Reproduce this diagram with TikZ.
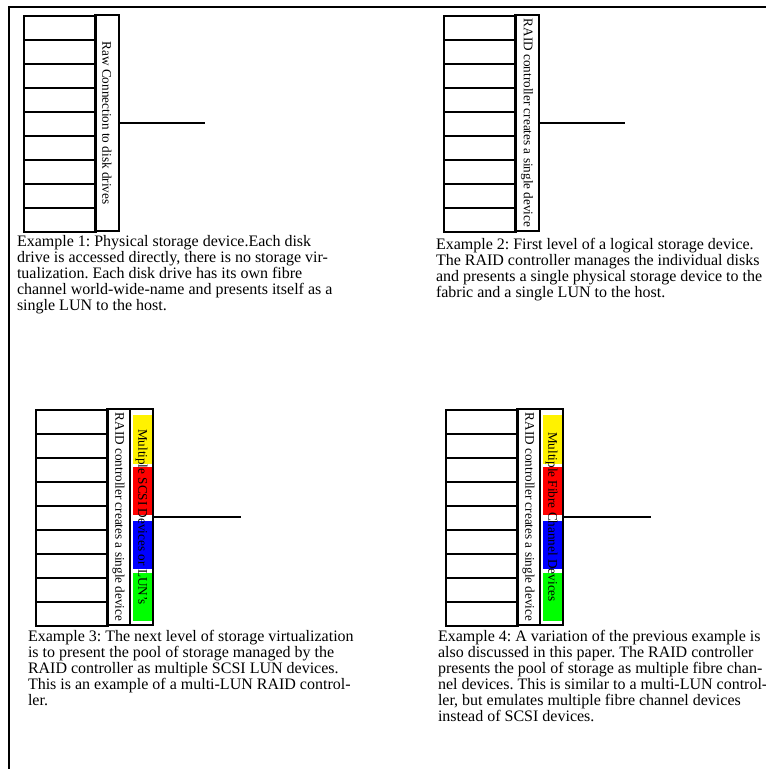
\documentclass[tikz,border=0pt]{standalone}
\usepackage{fontspec}
\setmainfont{Liberation Serif}
\frenchspacing
\begin{document}
\begin{tikzpicture}[x=0.75pt,y=-0.75pt,line width=1.5pt,
  disk/.style={draw,rectangle,inner sep=0pt,minimum width=54pt,minimum height=18pt,anchor=north west},
  colbox/.style={draw,rectangle,inner sep=0pt,rotate=-90,minimum width=162pt,
    font=\fontsize{9.9pt}{10pt}\selectfont},
  lunfill/.style={rectangle,inner sep=0pt,minimum width=15pt,anchor=north west},
  link/.style={draw,line width=1.5pt},
  caption/.style={anchor=north west,align=left,inner sep=0pt,
    font=\fontsize{12pt}{12pt}\selectfont}]
\useasboundingbox (0,0) rectangle (766,769);

% outer frame (top and left edges)
\coordinate (fbl) at (9,769);
\coordinate (ftl) at (9,7);
\coordinate (ftr) at (766,7);
\draw (fbl) -- (ftl) -- (ftr);

% ---------- Example 1: raw disks ----------
\foreach \i in {0,...,8} \node[disk] (a\i) at (23,15+24*\i) {};
\node[colbox,minimum height=18pt] (actl) at (107,123) {Raw Connection to disk drives};
\coordinate (aend) at (205,123);
\draw[link] (actl.north) -- (aend);
\node[caption] (acap) at (16,234) {Example 1: Physical storage device.Each disk\\
drive is accessed directly, there is no storage vir-\\
tualization. Each disk drive has its own fibre\\
channel world-wide-name and presents itself as a\\
single LUN to the host.};

% ---------- Example 2: single RAID device ----------
\foreach \i in {0,...,8} \node[disk] (b\i) at (443,15+24*\i) {};
\node[colbox,minimum height=18pt] (bctl) at (527,123) {RAID controller creates a single device};
\coordinate (bend) at (625,123);
\draw[link] (bctl.north) -- (bend);
\node[caption] (bcap) at (435,237) {Example 2: First level of a logical storage device.\\
The RAID controller manages the individual disks\\
and presents a single physical storage device to the\\
fabric and a single LUN to the host.};

% ---------- Example 3: multi-LUN controller ----------
\foreach \i in {0,...,8} \node[disk] (c\i) at (35,409+24*\i) {};
\node[colbox,minimum height=17.25pt] (cctl) at (118.5,517) {RAID controller creates a single device};
\node[lunfill,fill=yellow,minimum height=36.75pt] (cy) at (132,414) {};
\node[lunfill,fill=red,minimum height=36pt] (cr) at (132,466) {};
\node[lunfill,fill=blue,minimum height=36pt] (cb) at (132,520) {};
\node[lunfill,fill=green,minimum height=36pt] (cg) at (132,572) {};
\node[colbox,minimum height=17.25pt] (clun) at (141.5,517) {Multiple SCSI Devices or LUN's};
\coordinate (cend) at (241,517);
\draw[link] (clun.north) -- (cend);
\node[caption] (ccap) at (27,629) {Example 3: The next level of storage virtualization\\
is to present the pool of storage managed by the\\
RAID controller as multiple SCSI LUN devices.\\
This is an example of a multi-LUN RAID control-\\
ler.};

% ---------- Example 4: multiple fibre channel devices ----------
\foreach \i in {0,...,8} \node[disk] (d\i) at (445,409+24*\i) {};
\node[colbox,minimum height=17.25pt] (dctl) at (528.5,517) {RAID controller creates a single device};
\node[lunfill,fill=yellow,minimum height=36.75pt] (dy) at (542,414) {};
\node[lunfill,fill=red,minimum height=36pt] (dr) at (542,466) {};
\node[lunfill,fill=blue,minimum height=36pt] (db) at (542,520) {};
\node[lunfill,fill=green,minimum height=36pt] (dg) at (542,572) {};
\node[colbox,minimum height=17.25pt] (dlun) at (551.5,517) {Multiple Fibre Channel Devices};
\coordinate (dend) at (651,517);
\draw[link] (dlun.north) -- (dend);
\node[caption] (dcap) at (437,629) {Example 4: A variation of the previous example is\\
also discussed in this paper. The RAID controller\\
presents the pool of storage as multiple fibre chan-\\
nel devices. This is similar to a multi-LUN control-\\
ler, but emulates multiple fibre channel devices\\
instead of SCSI devices.};
\end{tikzpicture}
\end{document}
